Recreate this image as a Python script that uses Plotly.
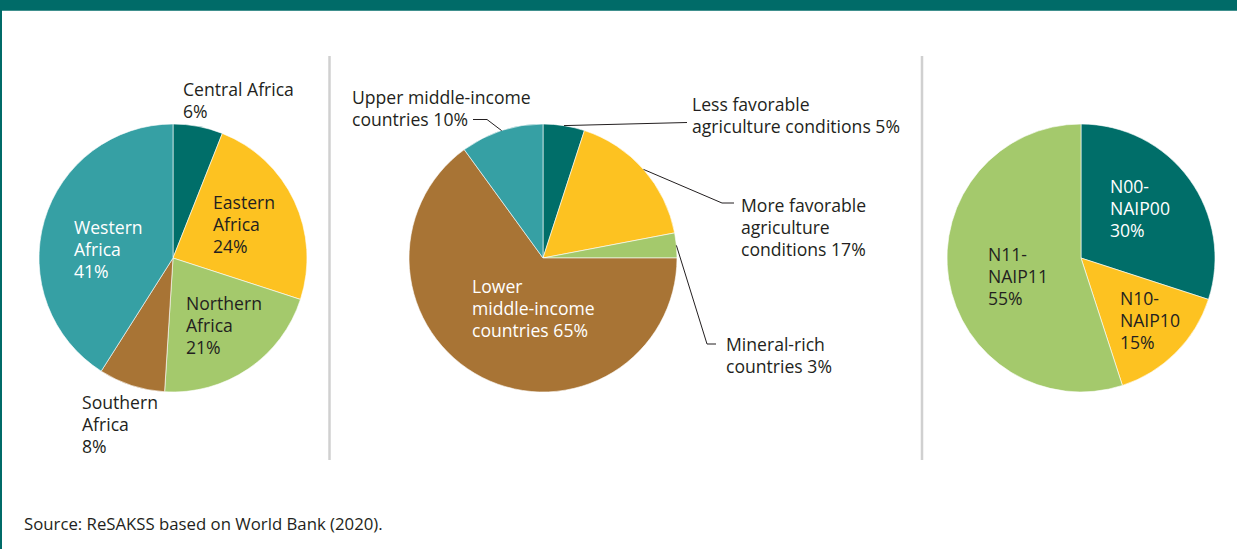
import math
import plotly.graph_objects as go

W, H = 1237, 549

# ---- data ----
region_labels = ["Central Africa", "Eastern Africa", "Northern Africa", "Southern Africa", "Western Africa"]
region_values = [6, 24, 21, 8, 41]

income_labels = ["Less favorable agriculture conditions", "More favorable agriculture conditions",
                 "Mineral-rich countries", "Lower middle-income countries", "Upper middle-income countries"]
income_values = [5, 17, 3, 65, 10]

naip_labels = ["N00-NAIP00", "N10-NAIP10", "N11-NAIP11"]
naip_values = [30, 15, 55]

source_text = "Source: ReSAKSS based on World Bank (2020)."

# ---- styles ----
DARK_TEAL = "#006E69"
YELLOW = "#FDC221"
LGREEN = "#A4C96C"
BROWN = "#A87435"
TEAL = "#36A0A4"
TXT = "#231F20"
FONT = "Open Sans"
FS = 17.6

region_colors = [DARK_TEAL, YELLOW, LGREEN, BROWN, TEAL]
income_colors = [DARK_TEAL, YELLOW, LGREEN, BROWN, TEAL]
naip_colors = [DARK_TEAL, YELLOW, LGREEN]

centers = [173, 543, 1081]
CY, R = 258, 134

fig = go.Figure()

def dom(cx):
    return dict(x=[(cx - R) / W, (cx + R) / W], y=[(H - CY - R) / H, (H - CY + R) / H])

for labels, values, colors, cx in [(region_labels, region_values, region_colors, centers[0]),
                                    (income_labels, income_values, income_colors, centers[1]),
                                    (naip_labels, naip_values, naip_colors, centers[2])]:
    fig.add_trace(go.Pie(labels=labels, values=values, sort=False, direction="clockwise",
                         rotation=0, textinfo="none", hoverinfo="label+percent",
                         marker=dict(colors=colors, line=dict(color="white", width=0.6)),
                         domain=dom(cx), showlegend=False))

# invisible pixel-coordinate axes for shapes/annotations
fig.add_trace(go.Scatter(x=[0, W], y=[0, H], mode="markers", marker=dict(opacity=0),
                         hoverinfo="skip", showlegend=False))
fig.update_xaxes(range=[0, W], visible=False, fixedrange=True)
fig.update_yaxes(range=[H, 0], visible=False, fixedrange=True)

def slice_mid(values, idx, cx):
    tot = sum(values)
    frac = (sum(values[:idx]) + values[idx] / 2) / tot
    ang = frac * 2 * math.pi
    return cx + R * math.sin(ang), CY - R * math.cos(ang)

shapes = []
# frame
shapes.append(dict(type="rect", x0=0, x1=W, y0=0, y1=10.7, fillcolor="#006B68", line_width=0, layer="above"))
shapes.append(dict(type="rect", x0=0, x1=2, y0=0, y1=H, fillcolor="#006B68", line_width=0, layer="above"))
# separators
for sx in [329.5, 922]:
    shapes.append(dict(type="line", x0=sx, x1=sx, y0=56, y1=460, line=dict(color="#D0D0D0", width=2.5)))

# leader lines (middle pie)
LC = dict(color=TXT, width=1)
x, y = slice_mid(income_values, 4, centers[1])
shapes.append(dict(type="path", path=f"M 473 119.5 L 487 119.5 L {x:.1f} {y:.1f}", line=LC))
x, y = slice_mid(income_values, 0, centers[1])
shapes.append(dict(type="path", path=f"M {x:.1f} {y:.1f} L 687 122.5", line=LC))
x, y = slice_mid(income_values, 1, centers[1])
shapes.append(dict(type="path", path=f"M {x:.1f} {y:.1f} L 722 203 L 734 203", line=LC))
x, y = slice_mid(income_values, 2, centers[1])
shapes.append(dict(type="path", path=f"M {x:.1f} {y:.1f} L 707 344 L 716 344", line=LC))
fig.update_layout(shapes=shapes)

LS = 22
def label(text, x, y1, color=TXT):
    for i, line in enumerate(text.split("<br>")):
        fig.add_annotation(text=line, x=x, y=y1 + i * LS, xref="x", yref="y", xanchor="left",
                           yanchor="middle", align="left", showarrow=False, borderpad=0,
                           font=dict(family=FONT, size=FS, color=color))

# left pie
label(f"{region_labels[0]}<br>{region_values[0]}%", 182, 89)
label(f"Eastern<br>Africa<br>{region_values[1]}%", 212, 202)
label(f"Northern<br>Africa<br>{region_values[2]}%", 185, 303)
label(f"Southern<br>Africa<br>{region_values[3]}%", 81, 402)
label(f"Western<br>Africa<br>{region_values[4]}%", 73, 227, "white")
# middle pie
label(f"Upper middle-income<br>countries {income_values[4]}%", 351, 97)
label(f"Less favorable<br>agriculture conditions {income_values[0]}%", 691, 104)
label(f"More favorable<br>agriculture<br>conditions {income_values[1]}%", 740, 205)
label(f"Mineral-rich<br>countries {income_values[2]}%", 725, 344)
label(f"Lower<br>middle-income<br>countries {income_values[3]}%", 471, 286, "white")
# right pie
label(f"N00-<br>NAIP00<br>{naip_values[0]}%", 1109, 186, "white")
label(f"N10-<br>NAIP10<br>{naip_values[1]}%", 1119, 298)
label(f"N11-<br>NAIP11<br>{naip_values[2]}%", 987, 254)
# source
fig.add_annotation(text=source_text, x=23, y=523, xref="x", yref="y", xanchor="left", yanchor="middle",
                   showarrow=False, borderpad=0, font=dict(family=FONT, size=16.75, color=TXT))

fig.update_layout(width=W, height=H, margin=dict(l=0, r=0, t=0, b=0),
                  paper_bgcolor="white", plot_bgcolor="white")
fig.write_html("out.html", config={"displayModeBar": False},
               post_script="document.body.style.margin='0';document.body.style.overflow='hidden';")
